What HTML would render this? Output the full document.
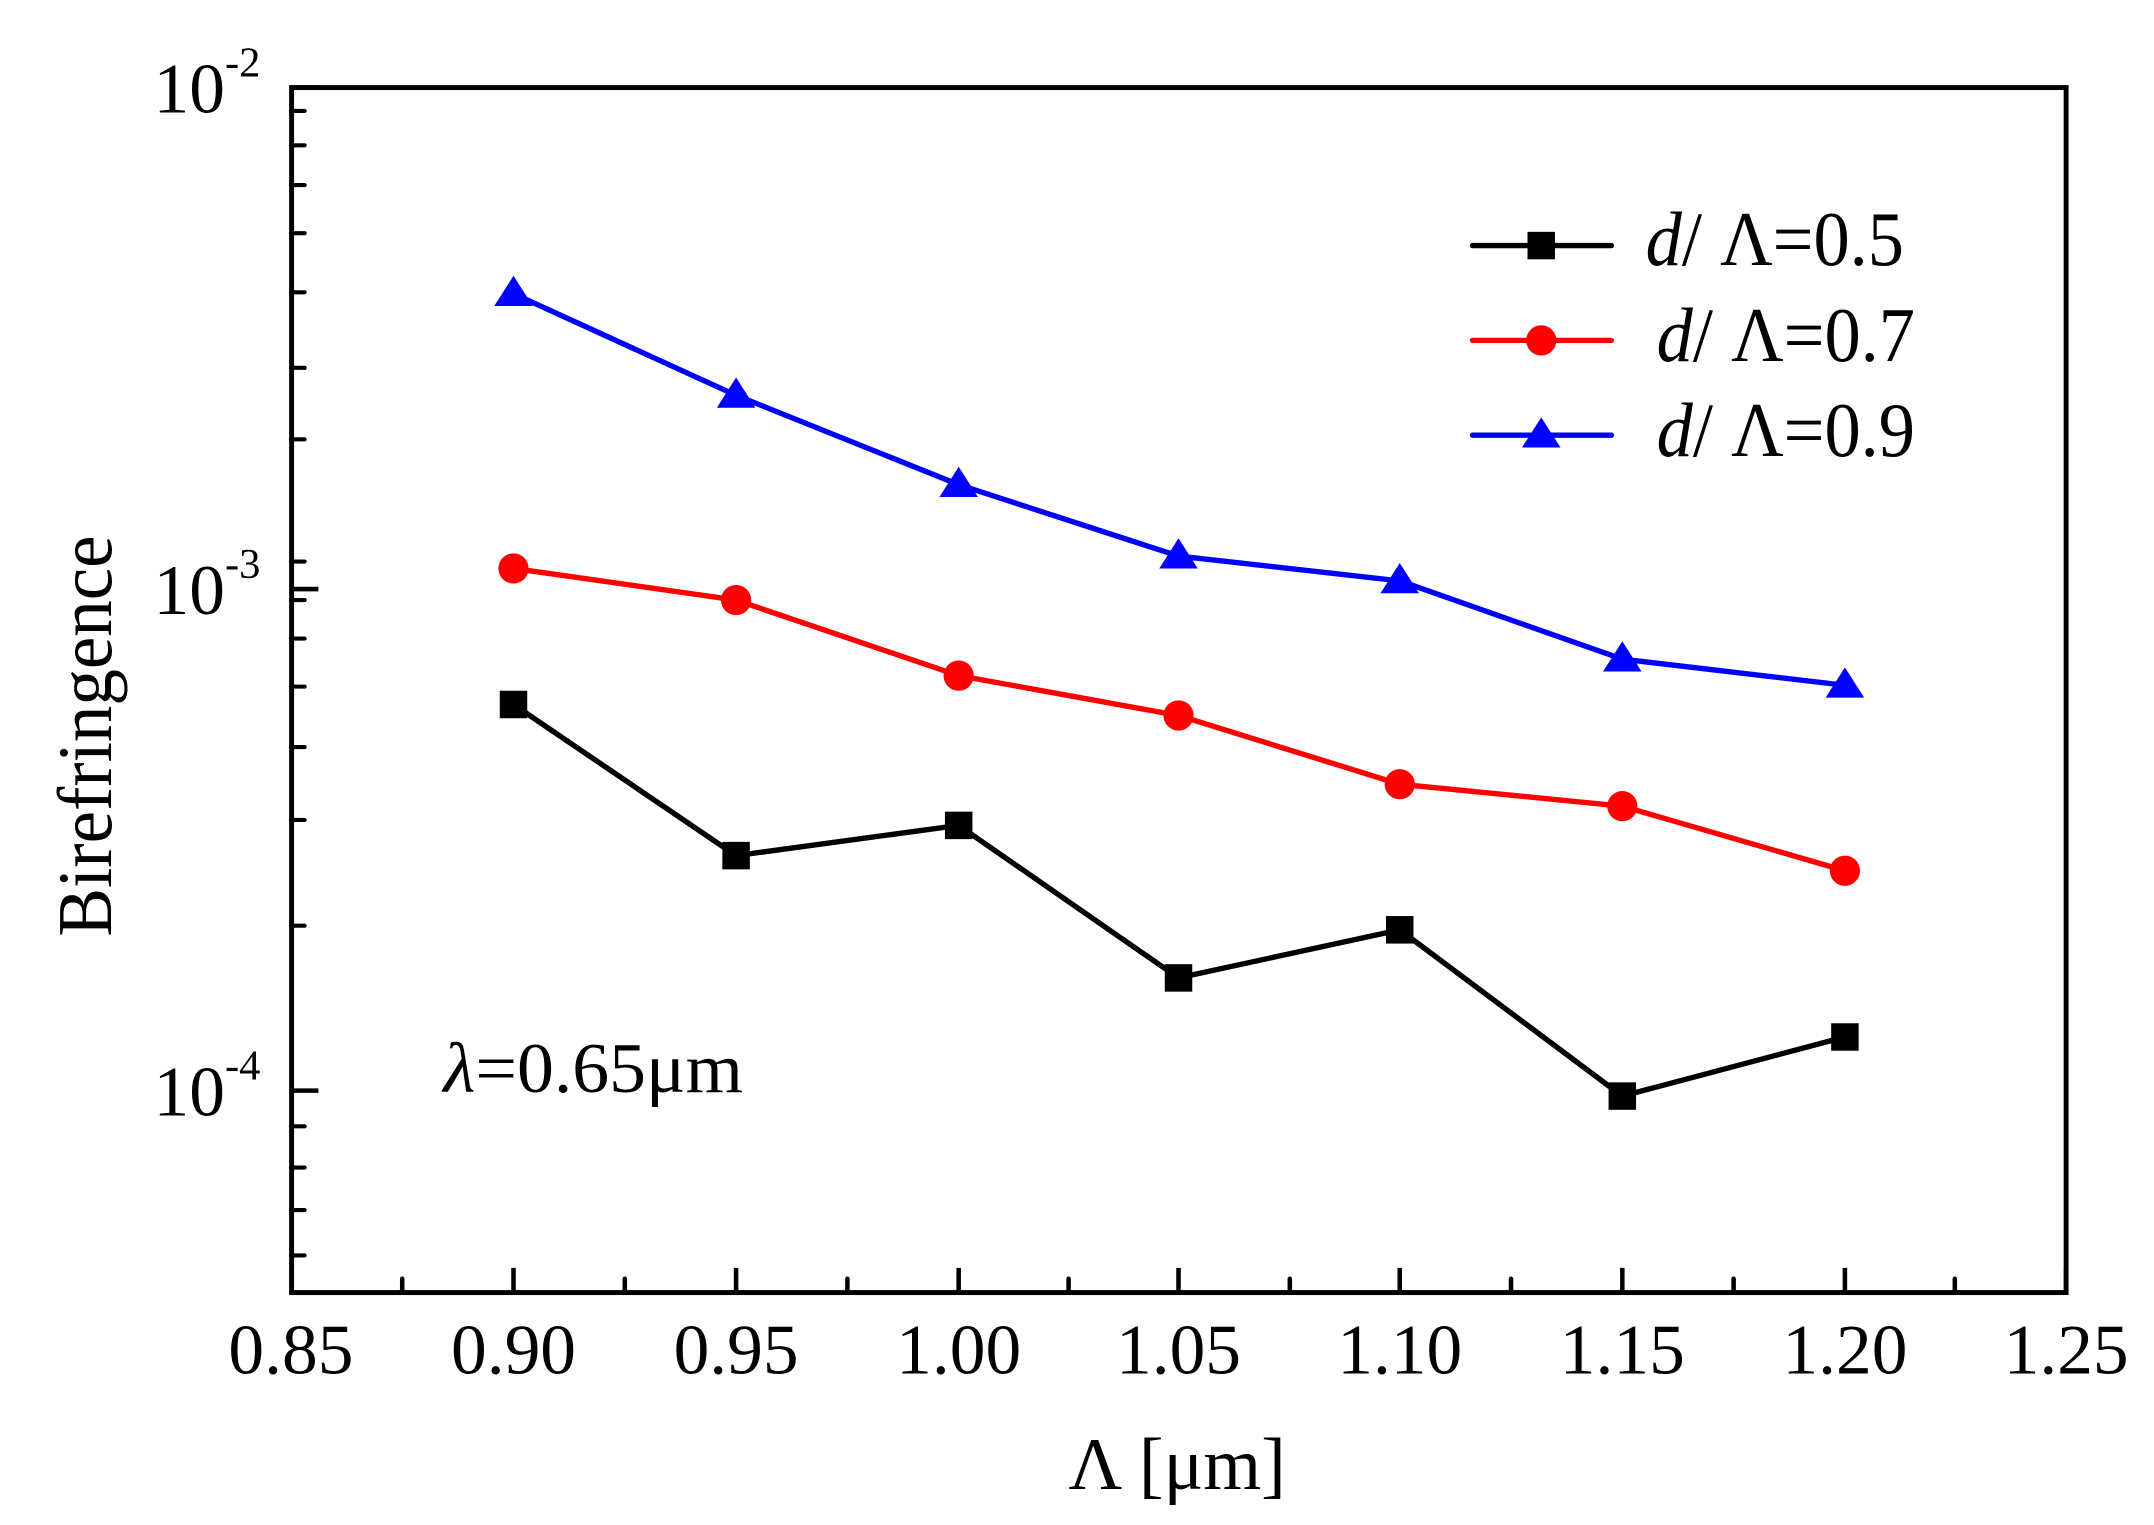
<!DOCTYPE html>
<html><head><meta charset="utf-8"><style>html,body{margin:0;padding:0;background:#fff;}svg{display:block;}</style></head>
<body>
<svg width="2154" height="1525" viewBox="0 0 2154 1525" xmlns="http://www.w3.org/2000/svg">
<rect width="2154" height="1525" fill="#fff"/>
<g transform="translate(1,1) scale(1.374)" font-family="Liberation Serif, serif" fill="#000">
  <g stroke="#000" stroke-width="3" stroke-linecap="round">
    <path d="M211,80h10 M211,105h10 M211,134h10 M211,169h10 M211,212h10 M211,267h10 M211,319h10
             M211,408h10 M211,436h10 M211,464h10 M211,499h10 M211,543h10 M211,596h10 M211,673h10
             M211,819h10 M211,849h10 M211,880h10 M211,913h10"/>
  </g>
  <g stroke="#000" stroke-width="3.3">
    <path d="M211,63h20 M211,428h20 M211,793h20"/>
    <path d="M211.5,940v-18 M373,940v-18 M535,940v-18 M697,940v-18 M857,940v-18 M1018,940v-18 M1180,940v-18 M1342,940v-18 M1503,940v-18"/>
    <path d="M292,940v-10 M454,940v-10 M616,940v-10 M777,940v-10 M938,940v-10 M1099,940v-10 M1261,940v-10 M1422,940v-10" stroke-linecap="round"/>
  </g>
  <rect x="211.5" y="63" width="1291.5" height="877" fill="none" stroke="#000" stroke-width="3.6"/>

  <g fill="none" stroke-width="3.9" stroke-linejoin="round">
    <polyline stroke="#000" points="373,512 535,622 697,600 857,711 1018,676 1180,797 1342,754"/>
    <polyline stroke="#f00" points="373,413 535,436 697,491 857,520 1018,570 1180,586 1342,633"/>
    <polyline stroke="#00f" points="373,213 535,287 697,352 857,404 1018,422 1180,479 1342,498"/>
  </g>
  <g fill="#000">
    <rect x="363" y="502" width="20" height="20"/><rect x="525" y="612" width="20" height="20"/>
    <rect x="687" y="590" width="20" height="20"/><rect x="847" y="701" width="20" height="20"/>
    <rect x="1008" y="666" width="20" height="20"/><rect x="1170" y="787" width="20" height="20"/>
    <rect x="1332" y="744" width="20" height="20"/>
  </g>
  <g fill="#f00">
    <circle cx="373" cy="413" r="11"/><circle cx="535" cy="436" r="11"/><circle cx="697" cy="491" r="11"/>
    <circle cx="857" cy="520" r="11"/><circle cx="1018" cy="570" r="11"/><circle cx="1180" cy="586" r="11"/>
    <circle cx="1342" cy="633" r="11"/>
  </g>
  <g fill="#00f">
    <path d="M373,200 l14,22 h-28z"/><path d="M535,274 l14,22 h-28z"/><path d="M697,339 l14,22 h-28z"/>
    <path d="M857,391 l14,22 h-28z"/><path d="M1018,409 l14,22 h-28z"/><path d="M1180,466 l14,22 h-28z"/>
    <path d="M1342,485 l14,22 h-28z"/>
  </g>

  <g stroke-width="3.9" stroke-linecap="round">
    <line x1="1071" y1="178" x2="1172" y2="178" stroke="#000"/>
    <line x1="1071" y1="247" x2="1172" y2="247" stroke="#f00"/>
    <line x1="1071" y1="316" x2="1172" y2="316" stroke="#00f"/>
  </g>
  <rect x="1111" y="168" width="20" height="20"/>
  <circle cx="1121" cy="247" r="11" fill="#f00"/>
  <path d="M1121,303 l14,22 h-28z" fill="#00f"/>
  <g font-size="56">
    <text x="1197" y="192" textLength="188" lengthAdjust="spacingAndGlyphs"><tspan font-style="italic">d</tspan>/ Λ=0.5</text>
    <text x="1205" y="262" textLength="188" lengthAdjust="spacingAndGlyphs"><tspan font-style="italic">d</tspan>/ Λ=0.7</text>
    <text x="1205" y="331" textLength="188" lengthAdjust="spacingAndGlyphs"><tspan font-style="italic">d</tspan>/ Λ=0.9</text>
  </g>

  <g font-size="52" text-anchor="middle">
    <text x="211" y="999">0.85</text><text x="373" y="999">0.90</text><text x="535" y="999">0.95</text>
    <text x="697" y="999">1.00</text><text x="857" y="999">1.05</text><text x="1018" y="999">1.10</text>
    <text x="1180" y="999">1.15</text><text x="1342" y="999">1.20</text><text x="1503" y="999">1.25</text>
  </g>
  <g font-size="52" text-anchor="end">
    <text x="163" y="81">10</text><text x="163" y="446">10</text><text x="163" y="811">10</text>
  </g>
  <g font-size="31">
    <text x="163" y="55">-2</text><text x="163" y="420">-3</text><text x="163" y="785">-4</text>
  </g>

  <text x="856" y="1083" font-size="54" text-anchor="middle">Λ [μm]</text>
  <text transform="translate(80,535) rotate(-90)" font-size="56" text-anchor="middle" textLength="292" lengthAdjust="spacingAndGlyphs">Birefringence</text>
  <text x="322" y="794" font-size="52" textLength="218" lengthAdjust="spacingAndGlyphs"><tspan font-style="italic">λ</tspan>=0.65μm</text>
</g>
</svg>
</body></html>
